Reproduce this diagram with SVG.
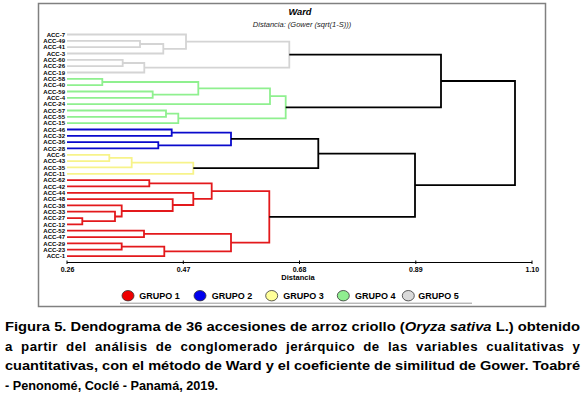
<svg xmlns="http://www.w3.org/2000/svg" width="585" height="398" viewBox="0 0 585 398">
<style>
.lbl{font-family:"Liberation Sans",Arial,sans-serif;font-size:6px;font-weight:bold;fill:#000;text-anchor:end}
.tick{font-family:"Liberation Sans",Arial,sans-serif;font-size:7px;font-weight:bold;fill:#000;text-anchor:middle}
.leg{font-family:"Liberation Sans",Arial,sans-serif;font-size:9px;font-weight:bold;fill:#000}
.cap{font-family:"Liberation Sans",Arial,sans-serif;font-size:13.3px;font-weight:bold;fill:#000}
.ln{fill:none;stroke-width:1.8;stroke-linejoin:miter}
.g5{stroke:#d4d4d4}.g4{stroke:#8ff08f}.g2{stroke:#0a0acc}.g3{stroke:#f7f38a}.g1{stroke:#e3191c}.bk{stroke:#000}
.dot{stroke:#333;stroke-width:0.8}
</style>
<rect width="585" height="398" fill="#fff"/>
<rect x="38.5" y="3.5" width="507" height="303" fill="none" stroke="#808080" stroke-width="1.5"/>
<text x="300" y="14.5" text-anchor="middle" font-family="Liberation Sans,Arial,sans-serif" font-size="9.3" font-weight="bold" font-style="italic">Ward</text>
<text x="302" y="27" text-anchor="middle" font-family="Liberation Sans,Arial,sans-serif" font-size="7.5" font-style="italic" fill="#222">Distancia: (Gower (sqrt(1-S)))</text>

<g id="connectors">
<g class="ln g5">
<path d="M67 40.8H140V47.2H67"/>
<path d="M140 44H163.3V53.5H67"/>
<path d="M67 34.5H186V48.8H163.3"/>
<path d="M67 59.8H122.7V66.2H67"/>
<path d="M122.7 63H144.3V72.5H67"/>
<path d="M186 41.6H289.3V67.7H144.3"/>
</g>
<g class="ln g4">
<path d="M67 78.8H102.3V85.1H67"/>
<path d="M67 91.5H152.7V97.8H67"/>
<path d="M102.3 82H198.3V94.6H152.7"/>
<path d="M198.3 88.3H270V104.1H67"/>
<path d="M67 110.5H166V116.8H67"/>
<path d="M166 113.6H178.3V123.1H67"/>
<path d="M270 96.2H285.7V118.4H178.3"/>
</g>
<g class="ln g2">
<path d="M67 129.5H171.7V135.8H67"/>
<path d="M67 142.1H158.3V148.4H67"/>
<path d="M171.7 132.6H231V145.3H158.3"/>
</g>
<g class="ln g3">
<path d="M67 154.8H109.3V161.1H67"/>
<path d="M109.3 157.9H131.7V167.4H67"/>
<path d="M131.7 162.7H193.3V173.8H67"/>
</g>
<g class="ln g1">
<path d="M67 180.1H149.3V186.4H67"/>
<path d="M67 218.1H82.3V224.4H67"/>
<path d="M67 211.7H115V221.2H82.3"/>
<path d="M67 205.4H121.7V216.5H115"/>
<path d="M67 199.1H172.7V211H121.7"/>
<path d="M67 192.8H193.3V205H172.7"/>
<path d="M149.3 183.3H211.7V198.9H193.3"/>
<path d="M67 230.7H144V237.1H67"/>
<path d="M67 243.4H121.7V249.7H67"/>
<path d="M121.7 246.6H164.3V256.1H67"/>
<path d="M144 233.9H231V251.3H164.3"/>
<path d="M211.7 191.1H269.3V242.6H231"/>
</g>
<g class="ln bk">
<path d="M289.3 54.7H441V107.3H285.7"/>
<path d="M231 138.9H318.3V168.2H193.3"/>
<path d="M318.3 153.6H415V216.9H269.3"/>
<path d="M441 81H515V185.2H415"/>
</g>
</g>

<g id="leaves">
<g id="n-ACC-7"><text class="lbl" x="65" y="36.6">ACC-7</text></g>
<g id="n-ACC-49"><text class="lbl" x="65" y="42.9">ACC-49</text></g>
<g id="n-ACC-41"><text class="lbl" x="65" y="49.3">ACC-41</text></g>
<g id="n-ACC-3"><text class="lbl" x="65" y="55.6">ACC-3</text></g>
<g id="n-ACC-60"><text class="lbl" x="65" y="61.9">ACC-60</text></g>
<g id="n-ACC-26"><text class="lbl" x="65" y="68.3">ACC-26</text></g>
<g id="n-ACC-19"><text class="lbl" x="65" y="74.6">ACC-19</text></g>
<g id="n-ACC-58"><text class="lbl" x="65" y="80.9">ACC-58</text></g>
<g id="n-ACC-40"><text class="lbl" x="65" y="87.2">ACC-40</text></g>
<g id="n-ACC-59"><text class="lbl" x="65" y="93.6">ACC-59</text></g>
<g id="n-ACC-4"><text class="lbl" x="65" y="99.9">ACC-4</text></g>
<g id="n-ACC-24"><text class="lbl" x="65" y="106.2">ACC-24</text></g>
<g id="n-ACC-57"><text class="lbl" x="65" y="112.6">ACC-57</text></g>
<g id="n-ACC-55"><text class="lbl" x="65" y="118.9">ACC-55</text></g>
<g id="n-ACC-15"><text class="lbl" x="65" y="125.2">ACC-15</text></g>
<g id="n-ACC-46"><text class="lbl" x="65" y="131.6">ACC-46</text></g>
<g id="n-ACC-32"><text class="lbl" x="65" y="137.9">ACC-32</text></g>
<g id="n-ACC-36"><text class="lbl" x="65" y="144.2">ACC-36</text></g>
<g id="n-ACC-28"><text class="lbl" x="65" y="150.5">ACC-28</text></g>
<g id="n-ACC-6"><text class="lbl" x="65" y="156.9">ACC-6</text></g>
<g id="n-ACC-43"><text class="lbl" x="65" y="163.2">ACC-43</text></g>
<g id="n-ACC-35"><text class="lbl" x="65" y="169.5">ACC-35</text></g>
<g id="n-ACC-11"><text class="lbl" x="65" y="175.9">ACC-11</text></g>
<g id="n-ACC-62"><text class="lbl" x="65" y="182.2">ACC-62</text></g>
<g id="n-ACC-42"><text class="lbl" x="65" y="188.5">ACC-42</text></g>
<g id="n-ACC-44"><text class="lbl" x="65" y="194.9">ACC-44</text></g>
<g id="n-ACC-48"><text class="lbl" x="65" y="201.2">ACC-48</text></g>
<g id="n-ACC-38"><text class="lbl" x="65" y="207.5">ACC-38</text></g>
<g id="n-ACC-33"><text class="lbl" x="65" y="213.8">ACC-33</text></g>
<g id="n-ACC-27"><text class="lbl" x="65" y="220.2">ACC-27</text></g>
<g id="n-ACC-12"><text class="lbl" x="65" y="226.5">ACC-12</text></g>
<g id="n-ACC-52"><text class="lbl" x="65" y="232.8">ACC-52</text></g>
<g id="n-ACC-47"><text class="lbl" x="65" y="239.2">ACC-47</text></g>
<g id="n-ACC-29"><text class="lbl" x="65" y="245.5">ACC-29</text></g>
<g id="n-ACC-23"><text class="lbl" x="65" y="251.8">ACC-23</text></g>
<g id="n-ACC-1"><text class="lbl" x="65" y="258.2">ACC-1</text></g>
</g>

<g id="axis">
<path d="M67 262.5H532" stroke="#000" stroke-width="1" fill="none"/>
<path d="M67 260.5V264M183.3 260.5V264M299.5 260.5V264M415.8 260.5V264M532 260.5V264" stroke="#000" stroke-width="1"/>
<text class="tick" x="67.5" y="271.5">0.26</text>
<text class="tick" x="183.5" y="271.5">0.47</text>
<text class="tick" x="299.5" y="271.5">0.68</text>
<text class="tick" x="415.8" y="271.5">0.89</text>
<text class="tick" x="532.3" y="271.5">1.10</text>
<text x="298" y="280" text-anchor="middle" font-family="Liberation Sans,Arial,sans-serif" font-size="7.5" font-weight="bold">Distancia</text>
</g>

<g id="legend">
<ellipse class="dot" cx="128" cy="295.7" rx="6" ry="5.2" fill="#ee0000"/>
<text class="leg" x="139.3" y="299">GRUPO 1</text>
<ellipse class="dot" cx="200" cy="295.7" rx="6" ry="5.2" fill="#0000ee"/>
<text class="leg" x="211.7" y="299">GRUPO 2</text>
<ellipse class="dot" cx="271.7" cy="295.7" rx="6" ry="5.2" fill="#ffff99"/>
<text class="leg" x="283.3" y="299">GRUPO 3</text>
<ellipse class="dot" cx="343.3" cy="295.7" rx="6" ry="5.2" fill="#90ee90"/>
<text class="leg" x="355" y="299">GRUPO 4</text>
<ellipse class="dot" cx="408.3" cy="295.7" rx="6" ry="5.2" fill="#d9d9d9"/>
<text class="leg" x="418.3" y="299">GRUPO 5</text>
<path d="M120 303.2H472" stroke="#999" stroke-width="1"/>
</g>

<g id="caption">
<text class="cap" x="5" y="331" textLength="575" lengthAdjust="spacingAndGlyphs">Figura 5. Dendograma de 36 accesiones de arroz criollo (<tspan font-style="italic">Oryza sativa</tspan> L.)  obtenido</text>
<text class="cap" x="5" y="350.5" textLength="575" lengthAdjust="spacing" word-spacing="4">a partir del análisis de conglomerado jerárquico de las variables cualitativas y</text>
<text class="cap" x="5" y="370" textLength="575" lengthAdjust="spacingAndGlyphs">cuantitativas, con el método de Ward y el coeficiente de similitud de Gower. Toabré</text>
<text class="cap" x="5" y="389.5" textLength="213" lengthAdjust="spacingAndGlyphs">- Penonomé, Coclé - Panamá, 2019.</text>
</g>
</svg>
